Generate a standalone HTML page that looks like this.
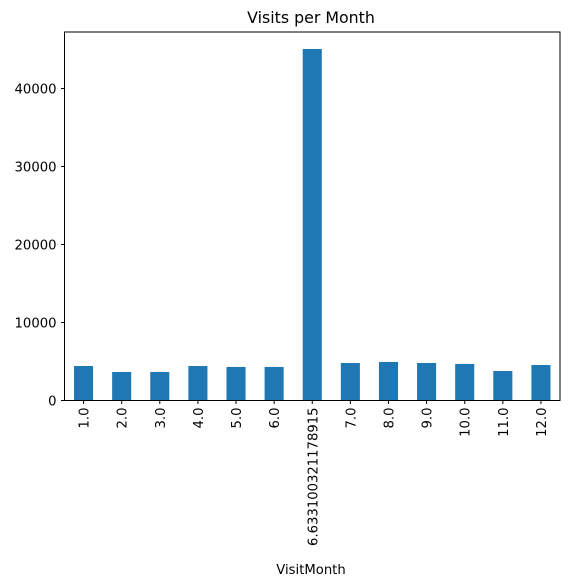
<!DOCTYPE html>
<html><head><meta charset="utf-8"><style>
body{margin:0;background:#fff}
svg{display:block;font-family:"DejaVu Sans","Liberation Sans",sans-serif}
</style></head><body>
<svg id="chart" width="569" height="586">
<text x="311" y="23" font-size="15.8" text-anchor="middle" fill="#000">Visits per Month</text>
<text x="311" y="574" font-size="13.2" text-anchor="middle" fill="#000">VisitMonth</text>
</svg>
<script>
const categories=["1.0","2.0","3.0","4.0","5.0","6.0","6.633100321178915","7.0","8.0","9.0","10.0","11.0","12.0"];
const visits=[4420,3650,3650,4420,4300,4300,45060,4810,4940,4810,4680,3780,4550];
const yTicks=[0,10000,20000,30000,40000];
const ns="http://www.w3.org/2000/svg";
const svg=document.getElementById('chart');
const L=64.5,R=560,T=32,B=400.5,yMax=47240;
const band=(R-L)/categories.length;
const xC=i=>L+band*(i+0.5);
const y=v=>B-(v/yMax)*(B-T);
function mk(tag,attrs){const e=document.createElementNS(ns,tag);for(const k in attrs)e.setAttribute(k,attrs[k]);svg.appendChild(e);return e;}
visits.forEach((v,i)=>{
 const r=mk('rect',{x:xC(i)-band*0.25,y:y(v),width:band*0.5,height:B-y(v),fill:'#1f77b4'});
 
 
});
const fr=mk('rect',{x:L,y:T,width:R-L,height:B-T,fill:'none',stroke:'#000','stroke-width':1});


yTicks.forEach(t=>{
 const ln=mk('line',{x1:L-3.5,x2:L,y1:y(t),y2:y(t),stroke:'#000'});
 
 
 const tx=mk('text',{x:L-8,y:y(t)+4.8,'font-size':13.2,'text-anchor':'end',fill:'#000'});
 tx.textContent=t;
 
 
});
categories.forEach((c,i)=>{
 const x=xC(i);
 const ln=mk('line',{x1:x,x2:x,y1:B,y2:B+3.5,stroke:'#000'});
 
 
 const tx=mk('text',{x:x+5,y:B+7,'font-size':13.2,'text-anchor':'end',fill:'#000',transform:`rotate(-90 ${x+5} ${B+7})`});
 tx.textContent=c;
 
 
});
</script>
</body></html>
